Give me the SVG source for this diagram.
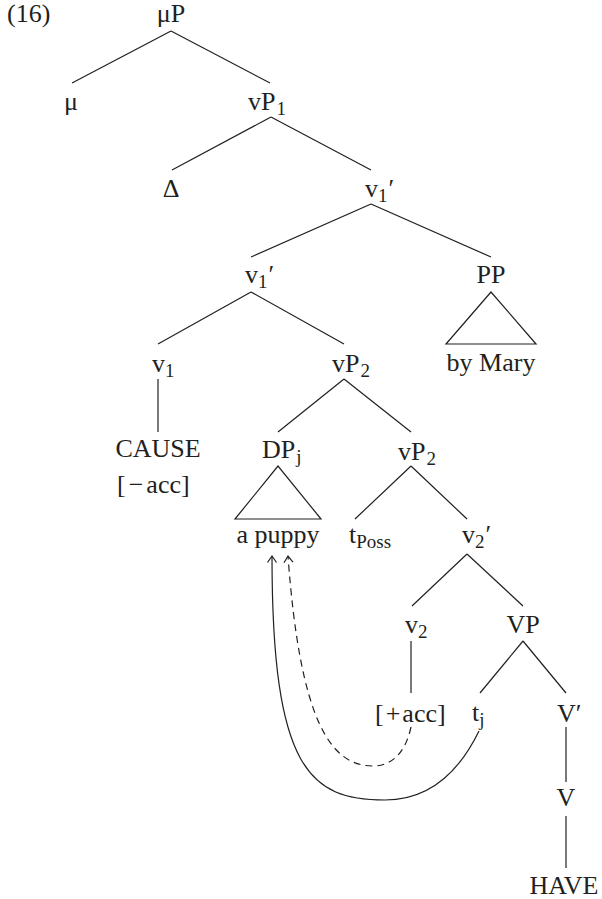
<svg xmlns="http://www.w3.org/2000/svg" width="602" height="899" viewBox="0 0 602 899">
  <style>
    text { font-family: "Liberation Serif", "Times New Roman", serif; font-size: 26px; fill: #231f20; }
    .m { text-anchor: middle; }
    .sub { font-size: 19px; }
    .edge { stroke: #231f20; stroke-width: 1.2; fill: none; }
    .dash { stroke-dasharray: 7 5; }
  </style>
  <defs>
    <!-- open arrowhead, drawn pointing along +x -->
    <marker id="head" viewBox="0 0 12 12" refX="10" refY="6" markerWidth="12" markerHeight="12" markerUnits="userSpaceOnUse" orient="auto">
      <path d="M3.5,1.5 L10,6 L3.5,10.5" fill="none" stroke="#231f20" stroke-width="1.2"/>
    </marker>
  </defs>

  <text x="7" y="22">(16)</text>

  <!-- tree branches -->
  <g id="connectors" class="edge">
    <line x1="171" y1="31" x2="72" y2="83"/>
    <line x1="171" y1="31" x2="270" y2="83"/>
    <line x1="271" y1="117" x2="172" y2="170"/>
    <line x1="271" y1="117" x2="371" y2="170"/>
    <line x1="371" y1="204" x2="251" y2="257"/>
    <line x1="371" y1="204" x2="491" y2="257"/>
    <line x1="251" y1="292" x2="158" y2="344"/>
    <line x1="251" y1="292" x2="344" y2="344"/>
    <polygon points="491,292 446,344 536,344"/>
    <line x1="158" y1="379" x2="158" y2="432"/>
    <line x1="344" y1="379" x2="278" y2="432"/>
    <line x1="344" y1="379" x2="411" y2="432"/>
    <polygon points="278,466 235,519 321,519"/>
    <line x1="411" y1="466" x2="355" y2="519"/>
    <line x1="411" y1="466" x2="467" y2="519"/>
    <line x1="467" y1="554" x2="412" y2="606"/>
    <line x1="467" y1="554" x2="523" y2="606"/>
    <line x1="411" y1="641" x2="411" y2="693"/>
    <line x1="523" y1="641" x2="480" y2="693"/>
    <line x1="523" y1="641" x2="566" y2="693"/>
    <line x1="566" y1="727" x2="566" y2="782"/>
    <line x1="566" y1="816" x2="566" y2="868"/>
    <!-- movement of t_j and case checking from [+acc] -->
    <path d="M479,731 C460,770 430,800 385,800 C310,800 272,770 272,556" marker-end="url(#head)"/>
    <path class="dash" d="M411,727 C405,755 390,766 373,766 C330,766 300,720 288,556" marker-end="url(#head)"/>
  </g>

  <g id="muP"><text class="m" x="171" y="22">μP</text></g>
  <g id="mu"><text class="m" x="71" y="110">μ</text></g>
  <g id="vP1"><text x="248" y="110">vP<tspan class="sub" dx="1" dy="5">1</tspan></text></g>
  <g id="delta"><text class="m" x="171" y="197">Δ</text></g>
  <g id="v1bar-top"><text x="365" y="197">v<tspan class="sub" dy="5">1</tspan><tspan dx="1" dy="-5">′</tspan></text></g>
  <g id="v1bar"><text x="245" y="283">v<tspan class="sub" dy="5">1</tspan><tspan dx="1" dy="-5">′</tspan></text></g>
  <g id="PP"><text class="m" x="491" y="283">PP</text><text class="m" x="491" y="371">by Mary</text></g>
  <g id="v1"><text x="152" y="372">v<tspan class="sub" dy="5">1</tspan></text></g>
  <g id="vP2"><text x="332" y="372">vP<tspan class="sub" dx="1" dy="5">2</tspan></text></g>
  <g id="cause"><text class="m" x="158" y="457">CAUSE</text><text x="117" y="493">[<tspan dx="3">−</tspan><tspan dx="3">acc]</tspan></text></g>
  <g id="DPj"><text x="262" y="458">DP<tspan class="sub" dx="1" dy="5">j</tspan></text><text class="m" x="278" y="543">a puppy</text></g>
  <g id="vP2-lower"><text x="398" y="460">vP<tspan class="sub" dx="1" dy="5">2</tspan></text></g>
  <g id="tPoss"><text x="349" y="543">t<tspan class="sub" dy="5">Poss</tspan></text></g>
  <g id="v2bar"><text x="462" y="543">v<tspan class="sub" dy="5">2</tspan><tspan dx="1" dy="-5">′</tspan></text></g>
  <g id="v2"><text x="405" y="633">v<tspan class="sub" dy="5">2</tspan></text></g>
  <g id="VP"><text class="m" x="523" y="633">VP</text></g>
  <g id="acc"><text x="375" y="722">[<tspan dx="2">+</tspan><tspan dx="2">acc]</tspan></text></g>
  <g id="tj"><text x="472" y="721">t<tspan class="sub" dy="5">j</tspan></text></g>
  <g id="Vbar"><text x="557" y="722">V′</text></g>
  <g id="V"><text class="m" x="566" y="806">V</text></g>
  <g id="HAVE"><text class="m" x="564" y="894">HAVE</text></g>
</svg>
